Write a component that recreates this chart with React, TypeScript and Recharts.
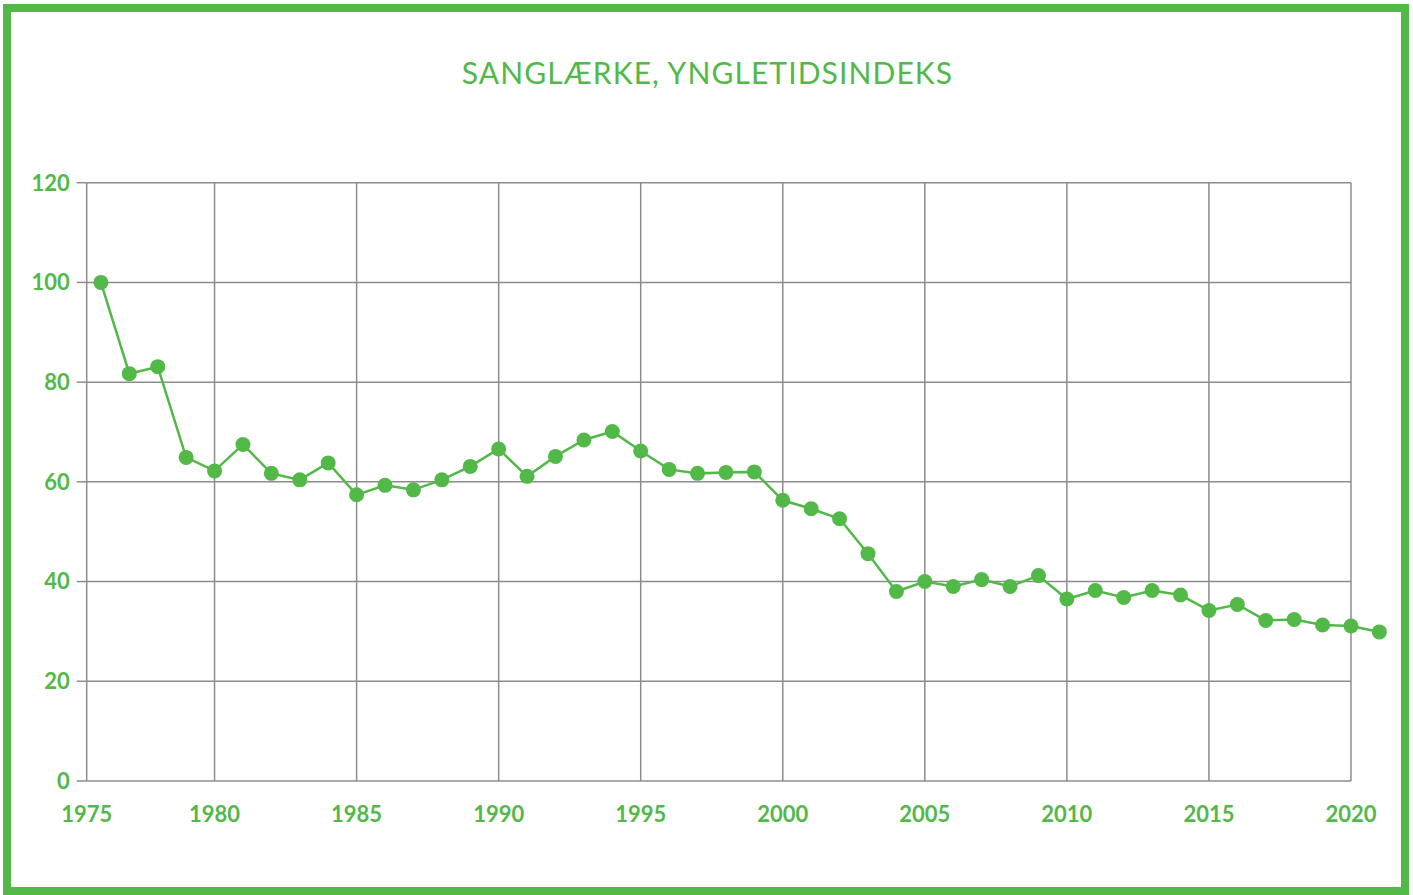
import { LineChart, Line, XAxis, YAxis, ReferenceLine } from 'recharts'

const GREEN = '#52b848'
const GRID = '#8c8c8c'

const years = [
  1976, 1977, 1978, 1979, 1980, 1981, 1982, 1983, 1984, 1985,
  1986, 1987, 1988, 1989, 1990, 1991, 1992, 1993, 1994, 1995,
  1996, 1997, 1998, 1999, 2000, 2001, 2002, 2003, 2004, 2005,
  2006, 2007, 2008, 2009, 2010, 2011, 2012, 2013, 2014, 2015,
  2016, 2017, 2018, 2019, 2020, 2021,
]

const index = [
  100, 81.7, 83.1, 64.9, 62.2, 67.5, 61.7, 60.4, 63.8, 57.4,
  59.3, 58.4, 60.4, 63.1, 66.6, 61.1, 65.1, 68.4, 70.1, 66.2,
  62.5, 61.7, 61.9, 62.0, 56.3, 54.6, 52.6, 45.6, 38.0, 40.0,
  39.0, 40.4, 39.0, 41.2, 36.5, 38.2, 36.8, 38.2, 37.3, 34.2,
  35.4, 32.2, 32.4, 31.3, 31.1, 29.9,
]

// first tick sits at the left edge of the grid, labelled 1975
const xTicks = [1975.5, 1980, 1985, 1990, 1995, 2000, 2005, 2010, 2015, 2020]
const yTicks = [0, 20, 40, 60, 80, 100, 120]

const chartData = years.map((y, i) => ({ year: y, value: index[i] }))

const X_START = xTicks[0]
const X_END = xTicks[xTicks.length - 1]

export default function App() {
  return (
    <div style={{ position: 'absolute', left: 0, top: 0, width: 1413, height: 895, background: '#fff' }}>
      <div
        style={{
          position: 'absolute',
          left: 3,
          top: 4,
          width: 1406,
          height: 891,
          border: `8px solid ${GREEN}`,
          boxSizing: 'border-box',
        }}
      />
      <div
        style={{
          position: 'absolute',
          left: 707.5,
          top: 57,
          transform: 'translateX(-50%)',
          whiteSpace: 'nowrap',
          fontFamily: 'Lato, sans-serif',
          fontSize: 30,
          lineHeight: '30px',
          letterSpacing: 1.1,
          color: GREEN,
        }}
      >
        SANGLÆRKE, YNGLETIDSINDEKS
      </div>
      <div style={{ position: 'absolute', left: 0, top: 0 }}>
        <LineChart
          width={1413}
          height={895}
          data={chartData}
          margin={{ top: 182.7, right: 19.4, left: 0, bottom: 74 }}
        >
          <XAxis
            dataKey="year"
            type="number"
            domain={[X_START, 2021.5]}
            ticks={xTicks}
            interval={0}
            tickFormatter={(v) => String(Math.floor(v))}
            axisLine={false}
            tickLine={false}
            tickSize={0}
            tickMargin={25}
            height={40}
            tick={{ fill: GREEN, fontSize: 22, fontWeight: 700, fontFamily: 'Lato, sans-serif' }}
          />
          <YAxis
            type="number"
            domain={[0, 120]}
            ticks={yTicks}
            interval={0}
            width={86.7}
            axisLine={false}
            tickLine={{ stroke: GRID, strokeWidth: 1.5 }}
            tickSize={10}
            tickMargin={7}
            tick={{ fill: GREEN, fontSize: 22, fontWeight: 700, fontFamily: 'Lato, sans-serif' }}
          />
          {yTicks.map((t) => (
            <ReferenceLine
              key={'h' + t}
              segment={[{ x: X_START, y: t }, { x: X_END, y: t }]}
              stroke={GRID}
              strokeWidth={1.5}
            />
          ))}
          {xTicks.map((t) => (
            <ReferenceLine
              key={'v' + t}
              segment={[{ x: t, y: 0 }, { x: t, y: 120 }]}
              stroke={GRID}
              strokeWidth={1.5}
            />
          ))}
          <Line
            type="linear"
            dataKey="value"
            stroke={GREEN}
            strokeWidth={2.5}
            dot={{ r: 7.5, fill: GREEN, stroke: 'none' }}
            activeDot={false}
            isAnimationActive={false}
          />
        </LineChart>
      </div>
    </div>
  )
}
